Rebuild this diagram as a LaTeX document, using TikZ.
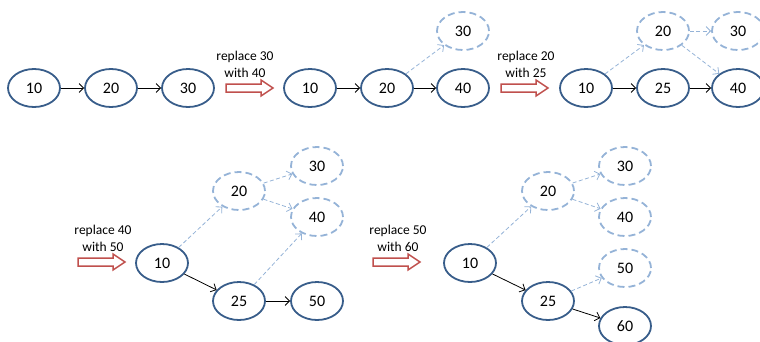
\documentclass[tikz,border=0pt]{standalone}
\usepackage{fontspec}
\setmainfont{Carlito}
\usetikzlibrary{shapes.geometric,arrows.meta}
\definecolor{nodeblue}{HTML}{385D8A}
\definecolor{ghostblue}{HTML}{95B3D7}
\definecolor{arrowred}{HTML}{C0504D}
\tikzset{
  nd/.style={ellipse, draw=nodeblue, line width=1.8pt, minimum width=52pt, minimum height=38pt, inner sep=0pt, font=\fontsize{16}{16}\selectfont},
  ghost/.style={nd, draw=ghostblue, dash pattern=on 7pt off 4pt},
  link/.style={black, line width=0.8pt, -{Straight Barb[length=4.5pt,width=9pt]}},
  glink/.style={ghostblue, line width=0.8pt, dash pattern=on 4pt off 2.5pt, -{Straight Barb[length=4.5pt,width=9pt]}},
  lbl/.style={align=center, font=\fontsize{13.5}{17}\selectfont, inner sep=0pt},
  hollowarrow/.pic={\draw[arrowred, line width=1.5pt, fill=white, line join=miter]
     (0,-4) -- (35,-4) -- (35,-8) -- (47,0) -- (35,8) -- (35,4) -- (0,4) -- cycle;}
}
\begin{document}
\begin{tikzpicture}[x=1pt,y=-1pt]
\useasboundingbox (0,0) rectangle (760,341);
% group 1
\node[nd] (a10) at (34,88) {10};
\node[nd] (a20) at (111,88) {20};
\node[nd] (a30) at (188,88) {30};
\draw[link] (a10) -- (a20);
\draw[link] (a20) -- (a30);
\node[lbl] (t1) at (245,64) {replace 30\\with 40};
\pic at (226,88) {hollowarrow};
% group 2
\node[nd] (b10) at (310,88) {10};
\node[nd] (b20) at (387,88) {20};
\node[nd] (b40) at (463,88) {40};
\node[ghost] (b30) at (463,31) {30};
\draw[link] (b10) -- (b20);
\draw[link] (b20) -- (b40);
\draw[glink] (b20) -- (b30);
\node[lbl] (t2) at (526,64) {replace 20\\with 25};
\pic at (501,88) {hollowarrow};
% group 3
\node[nd] (c10) at (586,88) {10};
\node[nd] (c25) at (663,88) {25};
\node[nd] (c40) at (738,88) {40};
\node[ghost] (c20) at (663,31) {20};
\node[ghost] (c30) at (738,31) {30};
\draw[link] (c10) -- (c25);
\draw[link] (c25) -- (c40);
\draw[glink] (c10) -- (c20);
\draw[glink] (c20) -- (c30);
\draw[glink] (c20) -- (c40);
% group 4
\node[nd] (d10) at (162,263) {10};
\node[ghost] (d20) at (239,191) {20};
\node[ghost] (d30) at (317,166) {30};
\node[ghost] (d40) at (317,217) {40};
\node[nd] (d25) at (239,301) {25};
\node[nd] (d50) at (317,301) {50};
\draw[glink] (d10) -- (d20);
\draw[glink] (d20) -- (d30);
\draw[glink] (d20) -- (d40);
\draw[glink] (d25) -- (d40);
\draw[link] (d10) -- (d25);
\draw[link] (d25) -- (d50);
\node[lbl] (t3) at (103,238) {replace 40\\with 50};
\pic at (78,262) {hollowarrow};
% group 5
\node[nd] (e10) at (470,263) {10};
\node[ghost] (e20) at (548,191) {20};
\node[ghost] (e30) at (625,166) {30};
\node[ghost] (e40) at (625,217) {40};
\node[ghost] (e50) at (625,268) {50};
\node[nd] (e25) at (548,301) {25};
\node[nd] (e60) at (625,326) {60};
\draw[glink] (e10) -- (e20);
\draw[glink] (e20) -- (e30);
\draw[glink] (e20) -- (e40);
\draw[glink] (e25) -- (e50);
\draw[link] (e10) -- (e25);
\draw[link] (e25) -- (e60);
\node[lbl] (t4) at (398,238) {replace 50\\with 60};
\pic at (373,262) {hollowarrow};
\end{tikzpicture}
\end{document}
